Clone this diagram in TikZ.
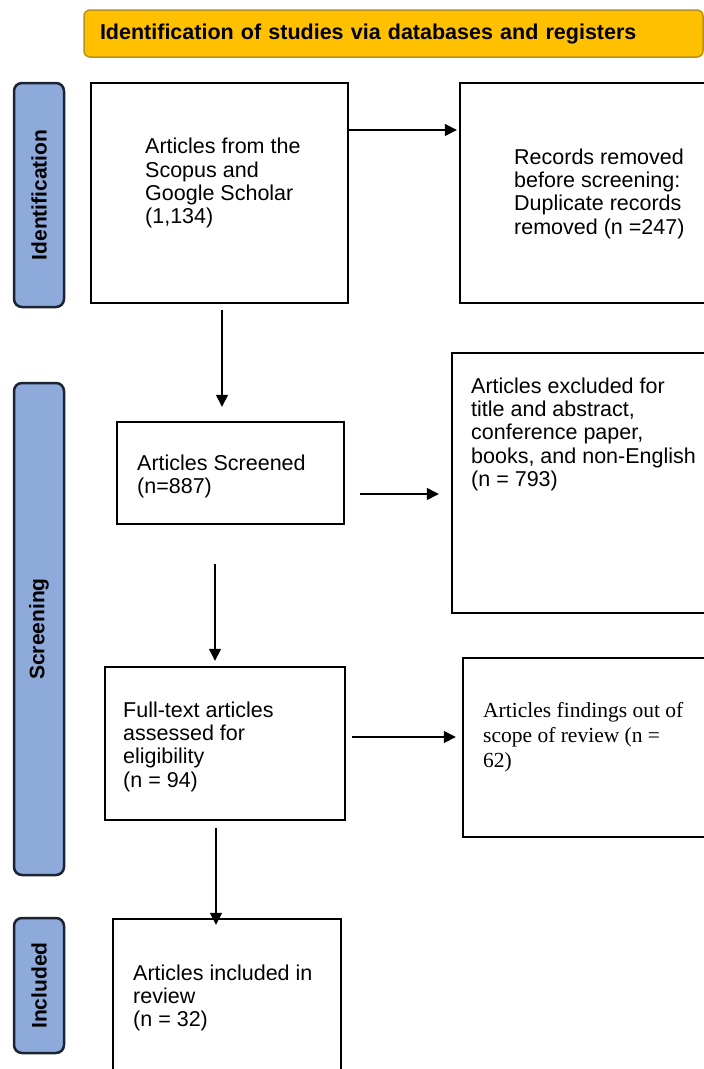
\documentclass[tikz,border=0pt]{standalone}
\usepackage{fontspec}
\setmainfont{Liberation Sans}
\newfontfamily\timesfont{Liberation Serif}
\usetikzlibrary{arrows.meta}
\definecolor{prismagold}{HTML}{FFC000}
\definecolor{prismagoldline}{HTML}{B8901A}
\definecolor{phaseblue}{HTML}{8EAADB}
\definecolor{phaseline}{HTML}{1C2333}

\begin{document}
\begin{tikzpicture}[x=1pt, y=-1pt, arrows={-Triangle[length=12pt,width=12pt]},
	box/.style={draw, line width=2.4pt, inner sep=0pt},
	txt/.style={anchor=north west, inner sep=0pt, align=left, font=\fontsize{21.5}{23.3}\selectfont},
	phase/.style={draw=phaseline, fill=phaseblue, line width=2.5pt, rounded corners=8pt,
		minimum height=50pt, inner sep=0pt, rotate=90, font=\fontsize{21}{24}\selectfont\bfseries},
	link/.style={line width=1.4pt}]
	\useasboundingbox (0,0) rectangle (704,1069);

	\node [draw=prismagoldline, fill=prismagold, line width=1.5pt, rounded corners=6pt,
		minimum height=47pt, inner xsep=16pt, inner ysep=0pt, text width=587pt, align=left,
		font=\fontsize{21.5}{24}\selectfont\bfseries] (head) at (393.5,33.5)
		{Identification of studies via databases and registers};

	\node [phase, minimum width=224pt] (ident)  at (39,195)   {Identification};
	\node [phase, minimum width=492pt] (screen) at (39,629)   {Screening};
	\node [phase, minimum width=135pt] (incl)   at (39,985.5) {Included};

	\node [box, minimum width=257pt, minimum height=220pt] (A) at (219.5,193) {};
	\node [box, minimum width=248pt, minimum height=220pt] (B) at (584,193)   {};
	\node [box, minimum width=227pt, minimum height=102pt] (C) at (230.5,473) {};
	\node [box, minimum width=256pt, minimum height=260pt] (D) at (580,483)   {};
	\node [box, minimum width=240pt, minimum height=153pt] (E) at (225,743.5) {};
	\node [box, minimum width=245pt, minimum height=179pt] (F) at (585.5,747.5) {};
	\node [box, minimum width=228pt, minimum height=156pt] (G) at (227,997)   {};

	\node [txt] (Atxt) at (145,138)   {Articles from the\\Scopus and\\Google Scholar\\(1,134)};
	\node [txt] (Btxt) at (514,148.5) {Records removed\\before screening:\\Duplicate records\\removed (n =247)};
	\node [txt] (Ctxt) at (137,454.5) {Articles Screened\\(n=887)};
	\node [txt] (Dtxt) at (471,377.5) {Articles excluded for\\title and abstract,\\conference paper,\\books, and non-English\\(n = 793)};
	\node [txt] (Etxt) at (123,701.5) {Full-text articles\\assessed for\\eligibility\\(n = 94)};
	\node [txt, font=\timesfont\fontsize{21.5}{25}\selectfont] (Ftxt) at (483,702.5)
		{Articles findings out of\\scope of review (n =\\62)};
	\node [txt] (Gtxt) at (133,964.5) {Articles included in\\review\\(n = 32)};

	\draw [link, shorten >=2pt] ([yshift=63pt]A.east) -- ([yshift=63pt]A.east -| B.west);
	\draw [link, shorten <=6pt, shorten >=14pt] ([xshift=2.5pt]A.south) -- ([xshift=2.5pt]A.south |- C.north);
	\draw [link, shorten <=15pt, shorten >=12pt] ([yshift=-21pt]C.east) -- ([yshift=-21pt]C.east -| D.west);
	\draw [link, shorten <=39pt, shorten >=5pt] ([xshift=-15.5pt]C.south) -- ([xshift=-15.5pt]C.south |- E.north);
	\draw [link, shorten <=6pt, shorten >=6pt] ([yshift=6.5pt]E.east) -- ([yshift=6.5pt]E.east -| F.west);
	\draw [link, shorten <=7pt, shorten >=-7pt] ([xshift=-9pt]E.south) -- ([xshift=-9pt]E.south |- G.north);
\end{tikzpicture}
\end{document}
